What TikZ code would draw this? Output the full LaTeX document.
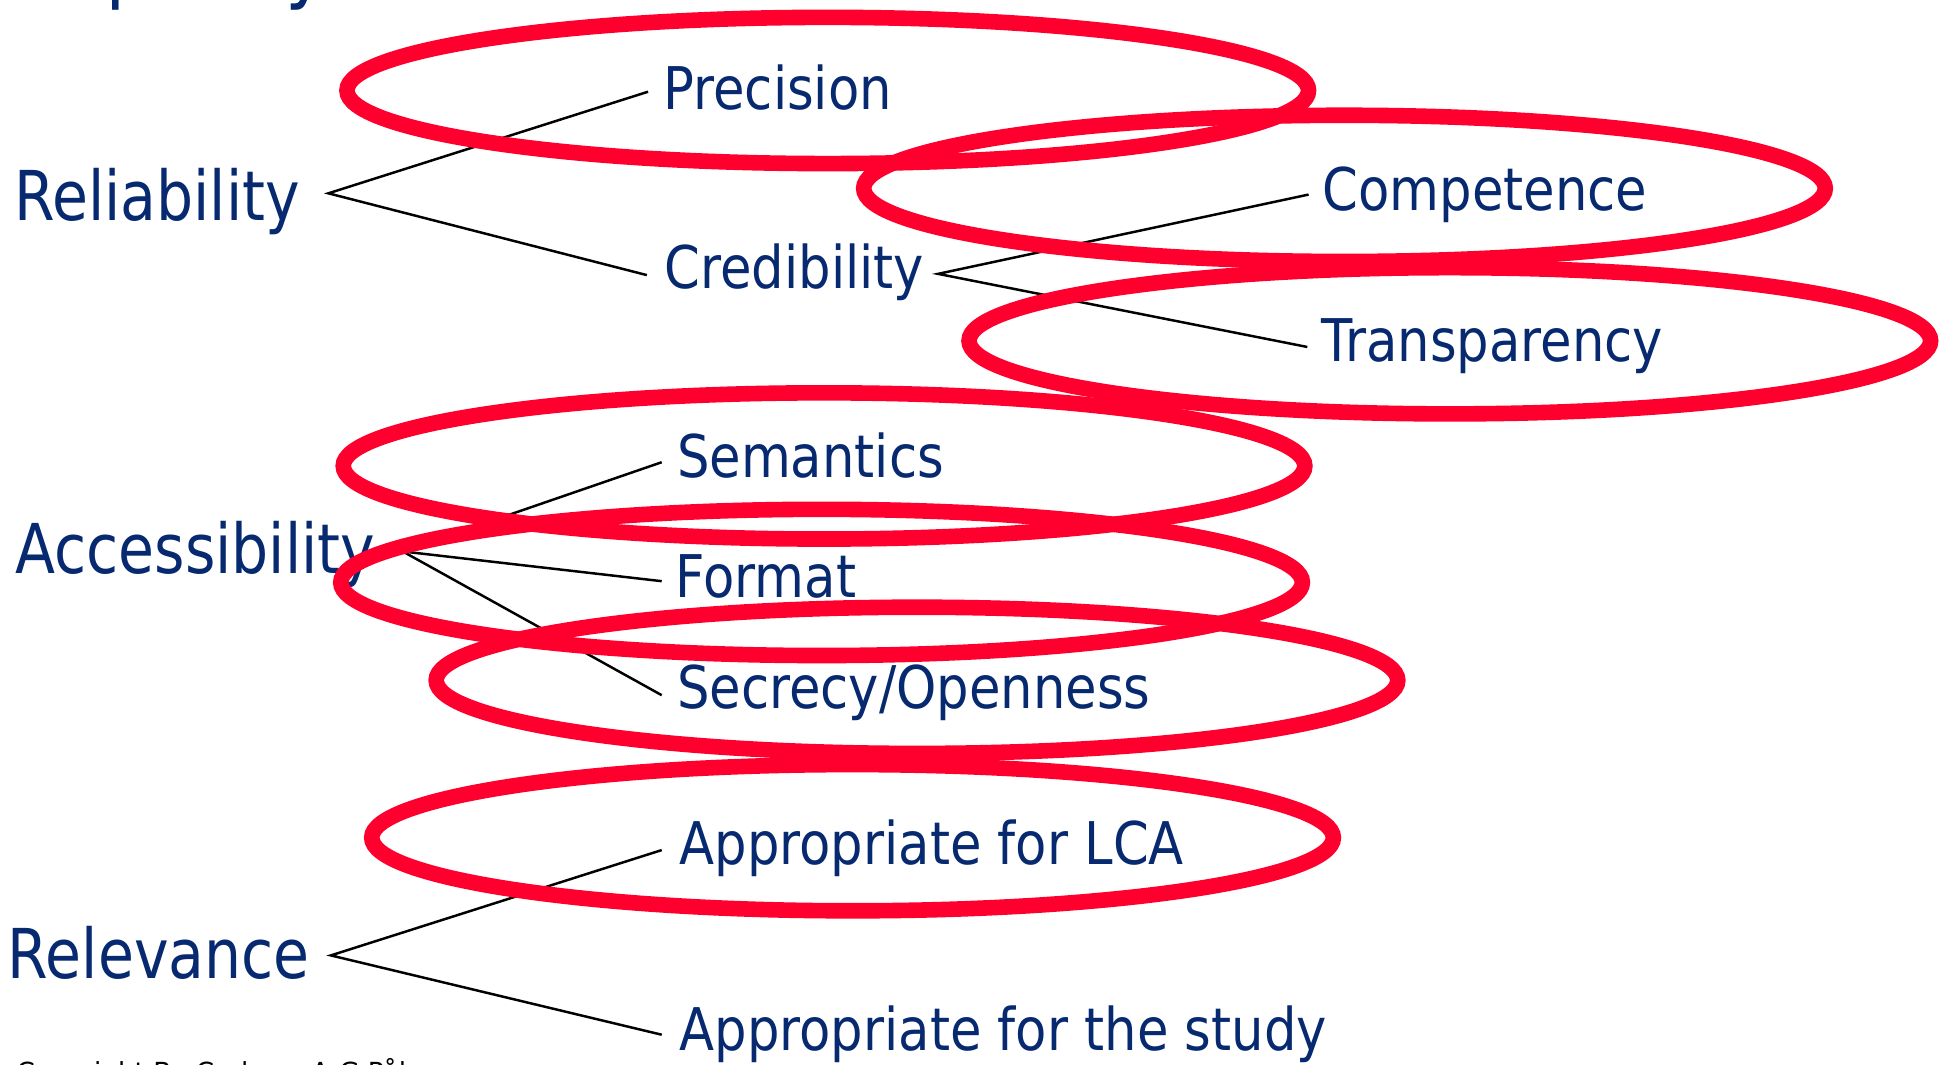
\documentclass[tikz,border=0pt]{standalone}
\usepackage{fontspec}
\newfontfamily\nf{DejaVu Sans}[FakeStretch=0.87]
\newfontfamily\hf{DejaVu Sans}[FakeStretch=0.85]
\newfontfamily\cf{DejaVu Sans}
\definecolor{navy}{RGB}{6,41,112}
\definecolor{pen}{RGB}{255,0,46}
\begin{document}
\begin{tikzpicture}[x=0.5pt,y=-0.5pt,
  sub/.style={anchor=base west, inner sep=0pt, text=navy, font=\nf\fontsize{23.75pt}{28pt}\selectfont},
  head/.style={anchor=base west, inner sep=0pt, text=navy, font=\hf\fontsize{27.75pt}{32pt}\selectfont},
  titlestyle/.style={anchor=base west, inner sep=0pt, text=navy, font=\hf\fontsize{34.5pt}{40pt}\selectfont},
  copy/.style={anchor=base west, inner sep=0pt, text=black, font=\cf\fontsize{10.6pt}{12pt}\selectfont},
  link/.style={line width=1pt, draw=black},
  ring/.style={draw=pen, line width=6.3pt}]
\fill[white] (0,0) rectangle (1568,859);
\useasboundingbox (0,0) rectangle (1568,859);

% title (cut off at the top) and copyright (cut off at the bottom)
\node[titlestyle] (title) at (64,-6) {\llap{Data }quality};
\node[copy] (copyr) at (13,873) {Copyright Bo Carlson, A-G Pålsson};

% headings
\node[head] (rel) at (11,178) {Reliability};
\node[head] (acc) at (12,463) {Accessibility};
\node[head] (relv) at (6,790) {Relevance};

% sub items
\node[sub] (prec) at (535,88) {Precision};
\node[sub] (cred) at (536,233) {Credibility};
\node[sub] (comp) at (1067,170) {Competence};
\node[sub] (trans) at (1066,292) {Transparency};
\node[sub] (sem) at (546,385) {Semantics};
\node[sub] (form) at (545,482) {Format};
\node[sub] (secr) at (546,572) {Secrecy/Openness};
\node[sub] (lca) at (548,698) {Appropriate for LCA};
\node[sub] (study) at (548,848) {Appropriate for the study};

% connector points
\coordinate (relv0) at (265,156);
\coordinate (precE) at (523,74);
\coordinate (credE) at (522,222);
\coordinate (cred0) at (757,221);
\coordinate (compE) at (1056,157);
\coordinate (transE) at (1055,280);
\coordinate (acc0) at (325,445);
\coordinate (semE) at (534,373);
\coordinate (formE) at (534,469);
\coordinate (secrE) at (534,561);
\coordinate (rlv0) at (267,771);
\coordinate (lcaE) at (534,686);
\coordinate (studyE) at (534,835);

\draw[link] (precE) -- (relv0) -- (credE);
\draw[link] (compE) -- (cred0) -- (transE);
\draw[link] (semE) -- (acc0) -- (formE);
\draw[link] (acc0) -- (secrE);
\draw[link] (lcaE) -- (rlv0) -- (studyE);

% red hand-drawn ellipses
\draw[ring] (668,73) ellipse [x radius=194pt, y radius=29.5pt];
\draw[ring] (1085,152) ellipse [x radius=194pt, y radius=29.5pt];
\draw[ring] (1170,275) ellipse [x radius=194pt, y radius=29.5pt];
\draw[ring] (665,376) ellipse [x radius=194pt, y radius=29.5pt];
\draw[ring] (663,470) ellipse [x radius=194pt, y radius=29.5pt];
\draw[ring] (740,549) ellipse [x radius=194pt, y radius=29.5pt];
\draw[ring] (688,676) ellipse [x radius=194pt, y radius=29.5pt];
\end{tikzpicture}
\end{document}
